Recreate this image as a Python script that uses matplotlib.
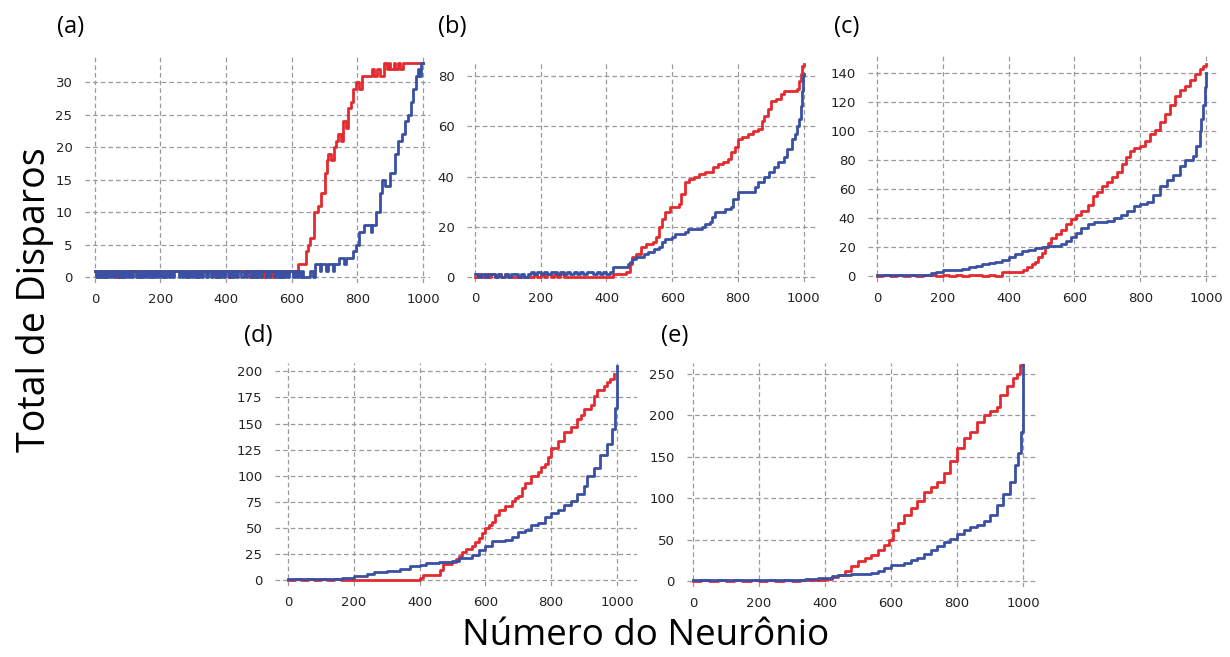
import matplotlib
matplotlib.use('Agg')
import matplotlib.pyplot as plt

RED = '#e32a2f'
BLUE = '#3a51a3'

# each low string: one digit per block of neurons (flickering part), then breakpoints
# ---- (a) ----
a_red_low = ("1101011111" "1110101111" "1111111111" "1111111111" "1111111111"
             "1111111111" "1111111111" "1110101111" "1010111111" "1111010111"
             "1010111010" "1111011111" "1111")
a_red_x = [620, 642, 648, 655, 668, 680, 690, 700, 706, 711, 718, 728, 735, 742,
           750, 757, 765, 772, 780, 786, 795, 805, 815, 845, 850, 860, 870, 880,
           890, 895, 900, 910, 915, 925, 930, 940, 945, 1000]
a_red_y = [2, 4, 5, 6, 10, 11, 13, 16, 18, 19, 18, 20, 21, 22,
           21, 24, 23, 26, 27, 29, 30, 29, 31, 32, 31, 32, 31, 33,
           32, 33, 32, 33, 32, 33, 32, 33, 33, 33]
a_blue_low = ("1010101010" "1011010101" "0101101010" "1010101010" "1010101011"
              "1010101010" "1010101101" "1011010101" "1101010110" "0101101010"
              "1011010110" "1010101011" "10101010")
a_blue_x = [640, 655, 665, 670, 685, 690, 705, 710, 725, 730, 745, 760, 765, 785,
            795, 805, 820, 840, 845, 858, 868, 875, 885, 900, 915, 925, 935, 945,
            955, 962, 970, 977, 983, 988, 993, 1000]
a_blue_y = [0, 1, 0, 2, 1, 2, 1, 2, 1, 2, 3, 2, 3, 4,
            5, 7, 8, 7, 8, 10, 13, 15, 14, 16, 19, 21, 22, 24,
            25, 27, 29, 31, 32, 31, 33, 33]

# ---- (b) ----
b_red_low = "0101010101" "0000000" "01010101010" "00000000000000" "1111"
b_red_x = [460, 470, 478, 490, 505, 520, 540, 552, 560, 570, 578, 592, 620, 628,
           640, 650, 665, 680, 700, 725, 740, 755, 770, 780, 790, 800, 812, 830,
           845, 860, 872, 880, 890, 900, 915, 930, 940, 978, 985, 990, 995, 1000]
b_red_y = [2, 5, 8, 9, 12, 13, 14, 16, 20, 23, 26, 28, 29, 33,
           38, 39, 40, 41, 42, 44, 45, 46, 47, 50, 52, 55, 56, 57,
           58, 59, 62, 64, 67, 70, 71, 73, 74, 75, 78, 81, 84, 85]
b_blue_low = "10101101010110101" "2121212212121212122121212"
b_blue_x = [420, 465, 470, 478, 490, 515, 525, 545, 560, 570, 578, 598, 608, 640,
            648, 690, 698, 715, 722, 730, 760, 780, 786, 800, 850, 862, 880, 895,
            910, 920, 940, 950, 965, 972, 980, 985, 990, 995, 998, 1000]
b_blue_y = [4, 5, 6, 7, 8, 9, 10, 11, 12, 14, 15, 16, 17, 18,
            19, 20, 21, 22, 24, 26, 27, 28, 31, 34, 36, 38, 40, 42,
            44, 46, 48, 51, 55, 57, 60, 63, 68, 74, 80, 81]

# ---- (c) ----
c_red_low = "0101010110101011010"
c_red_x = [380, 445, 455, 470, 480, 490, 500, 510, 520, 530, 545, 560, 575, 590,
           605, 620, 640, 655, 670, 685, 700, 715, 730, 745, 758, 770, 780, 800,
           815, 830, 845, 860, 875, 890, 905, 920, 935, 950, 965, 980, 990, 1000]
c_red_y = [3, 4, 6, 8, 10, 13, 16, 20, 23, 26, 29, 32, 36, 39,
           42, 45, 49, 55, 58, 62, 65, 68, 72, 77, 82, 86, 88, 90,
           93, 98, 101, 106, 112, 118, 124, 128, 131, 135, 139, 143, 145, 146]
c_blue_low = ""
c_blue_x = [0, 165, 180, 200, 240, 260, 280, 300, 320, 340, 360, 380, 400, 420,
            440, 460, 480, 500, 520, 540, 560, 575, 590, 605, 620, 640, 660, 700,
            720, 740, 760, 780, 800, 820, 840, 860, 880, 900, 920, 935, 960, 970,
            980, 985, 990, 995, 1000]
c_blue_y = [1, 2, 3, 4, 4, 5, 6, 7, 8, 9, 10, 11, 13, 15,
            17, 18, 19, 20, 21, 21, 22, 24, 27, 30, 33, 36, 37, 38,
            40, 42, 45, 48, 50, 51, 56, 62, 66, 70, 76, 80, 83, 90,
            100, 108, 118, 130, 140]

# ---- (d) ----
d_red_low = "01010101000000000000"
d_red_x = [400, 410, 455, 462, 470, 500, 510, 520, 530, 540, 560, 570, 580, 590,
           600, 610, 620, 630, 640, 660, 680, 690, 700, 710, 720, 740, 760, 770,
           780, 790, 800, 820, 840, 860, 880, 890, 900, 920, 930, 940, 960, 970,
           980, 990]
d_red_y = [2, 5, 5, 10, 15, 17, 20, 23, 27, 30, 33, 36, 40, 45,
           50, 53, 56, 62, 67, 71, 76, 79, 81, 88, 93, 100, 104, 108,
           111, 118, 127, 133, 142, 147, 154, 158, 164, 168, 176, 182, 186, 190,
           193, 197]
d_blue_low = ""
d_blue_x = [0, 165, 200, 240, 260, 300, 340, 370, 400, 420, 460, 500, 520, 560,
            580, 600, 620, 660, 680, 700, 720, 740, 760, 780, 800, 820, 840, 860,
            880, 900, 910, 930, 950, 970, 985, 995, 1000]
d_blue_y = [1, 2, 4, 6, 8, 9, 11, 13, 14, 16, 17, 18, 21, 24,
            29, 33, 37, 38, 41, 46, 48, 53, 55, 60, 64, 67, 72, 76,
            82, 90, 100, 107, 120, 130, 145, 165, 205]

# ---- (e) ----
e_red_low = "01010101010101"
e_red_x = [350, 400, 420, 440, 460, 480, 500, 520, 540, 560, 580, 595, 605, 620,
           640, 660, 680, 700, 720, 740, 760, 780, 800, 820, 840, 860, 880, 900,
           920, 930, 950, 970, 980, 990, 1000]
e_red_y = [2, 3, 5, 8, 12, 18, 24, 28, 32, 37, 44, 50, 62, 70,
           80, 88, 97, 108, 114, 120, 130, 145, 160, 172, 180, 192, 200, 205,
           210, 225, 235, 245, 250, 260, 260]
e_blue_low = ""
e_blue_x = [0, 300, 340, 380, 420, 440, 480, 540, 560, 580, 600, 640, 660, 680,
            700, 720, 740, 760, 780, 800, 820, 840, 860, 880, 900, 920, 940, 960,
            975, 985, 995, 1000]
e_blue_y = [1, 2, 3, 4, 6, 8, 9, 10, 12, 16, 19, 22, 25, 28,
            33, 38, 43, 47, 51, 57, 62, 65, 68, 72, 80, 92, 105, 120,
            140, 155, 180, 260]

x_ticks = [0, 200, 400, 600, 800, 1000]


def series(low, block, xs, ys):
    x = [i * block for i in range(len(low))] + xs
    y = [int(c) for c in low] + ys
    return x, y


W, H = 1230, 657
fig = plt.figure(figsize=(W / 100, H / 100), dpi=100)

# label, (left, right, top, bottom) in px, xlim, ylim, yticks, red, blue, block
panels = [
    ('(a)', (85, 430, 55, 283), (-30, 1021), (-0.9, 34.2), range(0, 31, 5),
     (a_red_low, a_red_x, a_red_y), (a_blue_low, a_blue_x, a_blue_y), 5, (57, 27)),
    ('(b)', (467, 818, 63, 282), (-24, 1043), (-2, 85.3), range(0, 81, 20),
     (b_red_low, b_red_x, b_red_y), (b_blue_low, b_blue_x, b_blue_y), 10, (438, 27)),
    ('(c)', (868, 1218, 55, 282), (-27, 1036), (-4.1, 152.4), range(0, 141, 20),
     (c_red_low, c_red_x, c_red_y), (c_blue_low, c_blue_x, c_blue_y), 20, (834, 27)),
    ('(d)', (275, 637, 363, 586), (-39.5, 1061), (-5.7, 208), range(0, 201, 25),
     (d_red_low, d_red_x, d_red_y), (d_blue_low, d_blue_x, d_blue_y), 20, (244, 336)),
    ('(e)', (687, 1037, 363, 587), (-18, 1042), (-7, 263), range(0, 251, 50),
     (e_red_low, e_red_x, e_red_y), (e_blue_low, e_blue_x, e_blue_y), 25, (661, 336)),
]

for label, (l, r, t, b), xlim, ylim, yt, red, blue, block, lab_pos in panels:
    ax = fig.add_axes([l / W, 1 - b / H, (r - l) / W, (b - t) / H])
    rx, ry = series(red[0], block, red[1], red[2])
    bx, by = series(blue[0], block, blue[1], blue[2])
    ax.step(rx, ry, where='post', color=RED, lw=2.0, zorder=3)
    ax.step(bx, by, where='post', color=BLUE, lw=2.0, zorder=4)
    ax.set_xlim(*xlim)
    ax.set_ylim(*ylim)
    ax.set_xticks(x_ticks)
    ax.set_yticks(list(yt))
    ax.grid(True, linestyle=(0, (3.7, 2.4)), color='#9a9a9a', linewidth=0.9)
    ax.set_axisbelow(True)
    for s in ax.spines.values():
        s.set_visible(False)
    ax.tick_params(length=0, labelsize=9.5, labelcolor='#222222')
    ax.tick_params(axis='y', pad=9)
    ax.tick_params(axis='x', pad=7)
    for tl in ax.get_xticklabels() + ax.get_yticklabels():
        tl.set_family('DejaVu Sans')
    fig.text(lab_pos[0] / W, 1 - lab_pos[1] / H, label, fontsize=17,
             family='Open Sans', va='center', ha='left')

fig.text(35 / W, 1 - 300 / H, 'Total de Disparos', rotation=90, fontsize=27,
         family='Open Sans', ha='center', va='center')
fig.text(646 / W, 1 - 636 / H, 'Número do Neurônio', fontsize=26.5,
         family='Open Sans', ha='center', va='center')

fig.savefig('out.png', dpi=100)
